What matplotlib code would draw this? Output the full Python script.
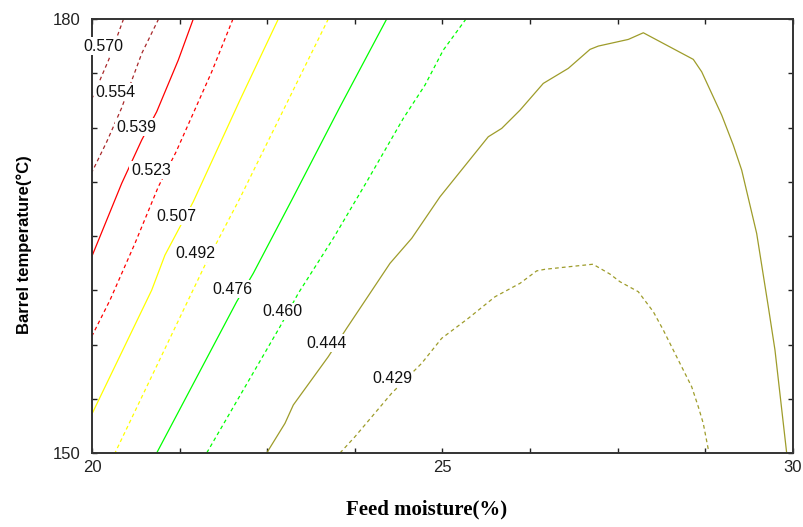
import matplotlib
matplotlib.use("Agg")
import matplotlib.pyplot as plt

# contour levels of the fitted response, highest first
levels = [0.570, 0.554, 0.539, 0.523, 0.507, 0.492, 0.476, 0.460, 0.444, 0.429]
colors = ["#a8282a", "#a8282a", "#ff0000", "#ff0000", "#ffff00",
          "#ffff00", "#00ff00", "#00ff00", "#9e9c2a", "#9e9c2a"]
dashed = [True, True, False, True, False, True, False, True, False, True]

# iso-lines: feed moisture (%) vs barrel temperature (C)
x_570 = [20.45, 20.24, 20.0]
y_570 = [180.0, 177.2, 174.5]
x_554 = [20.95, 20.71, 20.42, 20.21, 20.0]
y_554 = [180.0, 177.62, 173.82, 171.51, 169.42]
x_539 = [21.445, 21.231, 20.923, 20.709, 20.424, 20.0]
y_539 = [180.0, 177.16, 173.59, 171.63, 168.64, 163.61]
x_523 = [22.011, 21.708, 21.198, 20.946, 20.613, 20.257, 20.0]
y_523 = [180.0, 176.35, 170.80, 168.40, 164.49, 160.57, 158.09]
x_507 = [22.658, 22.111, 21.445, 21.041, 20.852, 20.0]
y_507 = [180.0, 174.40, 167.37, 163.68, 161.26, 152.70]
x_492 = [23.371, 22.111, 21.612, 20.328]
y_492 = [180.0, 167.62, 162.99, 150.0]
x_476 = [24.204, 23.538, 22.849, 22.301, 22.064, 20.923]
y_476 = [180.0, 173.93, 167.48, 162.42, 160.46, 150.0]
x_460 = [25.335, 25.011, 24.750, 24.441, 23.919, 23.442, 22.943, 22.682, 21.636]
y_460 = [180.0, 177.85, 175.43, 173.13, 168.75, 164.84, 161.04, 158.73, 150.0]
x_444 = [22.492, 22.753, 22.872, 23.371, 23.633, 24.251, 24.561, 24.964,
         25.653, 25.845, 26.106, 26.438, 26.795, 27.104, 27.223, 27.651,
         27.865, 28.578, 28.698, 28.983, 29.148, 29.268, 29.482, 29.648,
         29.743, 29.910]
y_444 = [150.0, 152.05, 153.32, 156.66, 158.62, 163.11, 164.84, 167.71,
         171.86, 172.44, 173.70, 175.55, 176.59, 177.90, 178.13, 178.59,
         179.05, 177.21, 176.35, 173.36, 171.29, 169.56, 165.18, 160.11,
         157.12, 150.0]
x_429 = [23.538, 23.752, 24.275, 24.703, 24.989, 25.368, 25.749, 26.106,
         26.344, 26.462, 26.733, 27.147, 27.389, 27.532, 27.793, 28.007,
         28.150, 28.292, 28.435, 28.555, 28.649, 28.720, 28.802]
y_429 = [150.0, 151.13, 154.13, 156.20, 157.93, 159.31, 160.80, 161.73,
         162.59, 162.70, 162.84, 163.05, 162.37, 161.84, 161.15, 159.77,
         158.50, 157.12, 155.74, 154.58, 153.20, 152.05, 150.0]

# where each level's label sits
label_x = [20.16, 20.33, 20.63, 20.84, 21.21, 21.48, 22.00, 22.71, 23.34, 24.28]
label_y = [178.13, 174.95, 172.53, 169.56, 166.38, 163.82, 161.33, 159.78, 157.60, 155.18]

xticks = [20, 21.25, 22.5, 23.75, 25, 26.25, 27.5, 28.75, 30]
xtick_labels = ["20", "", "", "", "25", "", "", "", "30"]
yticks = [150, 153.75, 157.5, 161.25, 165, 168.75, 172.5, 176.25, 180]
ytick_labels = ["150", "", "", "", "", "", "", "", "180"]

lines_x = [x_570, x_554, x_539, x_523, x_507, x_492, x_476, x_460, x_444, x_429]
lines_y = [y_570, y_554, y_539, y_523, y_507, y_492, y_476, y_460, y_444, y_429]

plt.rcParams['font.family'] = ['Liberation Sans', 'DejaVu Sans']

fig = plt.figure(figsize=(8.04, 5.27), dpi=100)
ax = fig.add_axes([0.1144, 0.1404, 0.8719, 0.8235])

for lx, ly, c, d in zip(lines_x, lines_y, colors, dashed):
    if d:
        ax.plot(lx, ly, color=c, lw=0.9, dashes=(3, 2.5), zorder=2)
    else:
        ax.plot(lx, ly, color=c, lw=0.9, zorder=2)

for lev, tx, ty in zip(levels, label_x, label_y):
    ax.text(tx, ty, "%.3f" % lev, fontsize=11.5, ha="center", va="center",
            color="#111111", zorder=5, clip_on=False,
            bbox=dict(facecolor="white", edgecolor="none", pad=1.0))

ax.set_xlim(20, 30)
ax.set_ylim(150, 180)
ax.set_xticks(xticks)
ax.set_xticklabels(xtick_labels)
ax.set_yticks(yticks)
ax.set_yticklabels(ytick_labels)
ax.tick_params(direction="in", length=3.5, width=1, top=True, right=True,
               labelsize=12, colors="#222222")
ax.tick_params(axis="y", pad=8)
ax.tick_params(axis="x", pad=5)
for s in ax.spines.values():
    s.set_linewidth(1.4)
    s.set_color("#333333")
    s.set_zorder(3)

ax.set_xlabel("Feed moisture(%)", fontsize=15, fontweight="bold",
              family=["Liberation Serif"])
ax.xaxis.set_label_coords(0.478, -0.108)
ax.set_ylabel("Barrel temperature(\u00b0C)", fontsize=12, fontweight="bold")
ax.yaxis.set_label_coords(-0.086, 0.48)

fig.savefig("out.png", dpi=100)
